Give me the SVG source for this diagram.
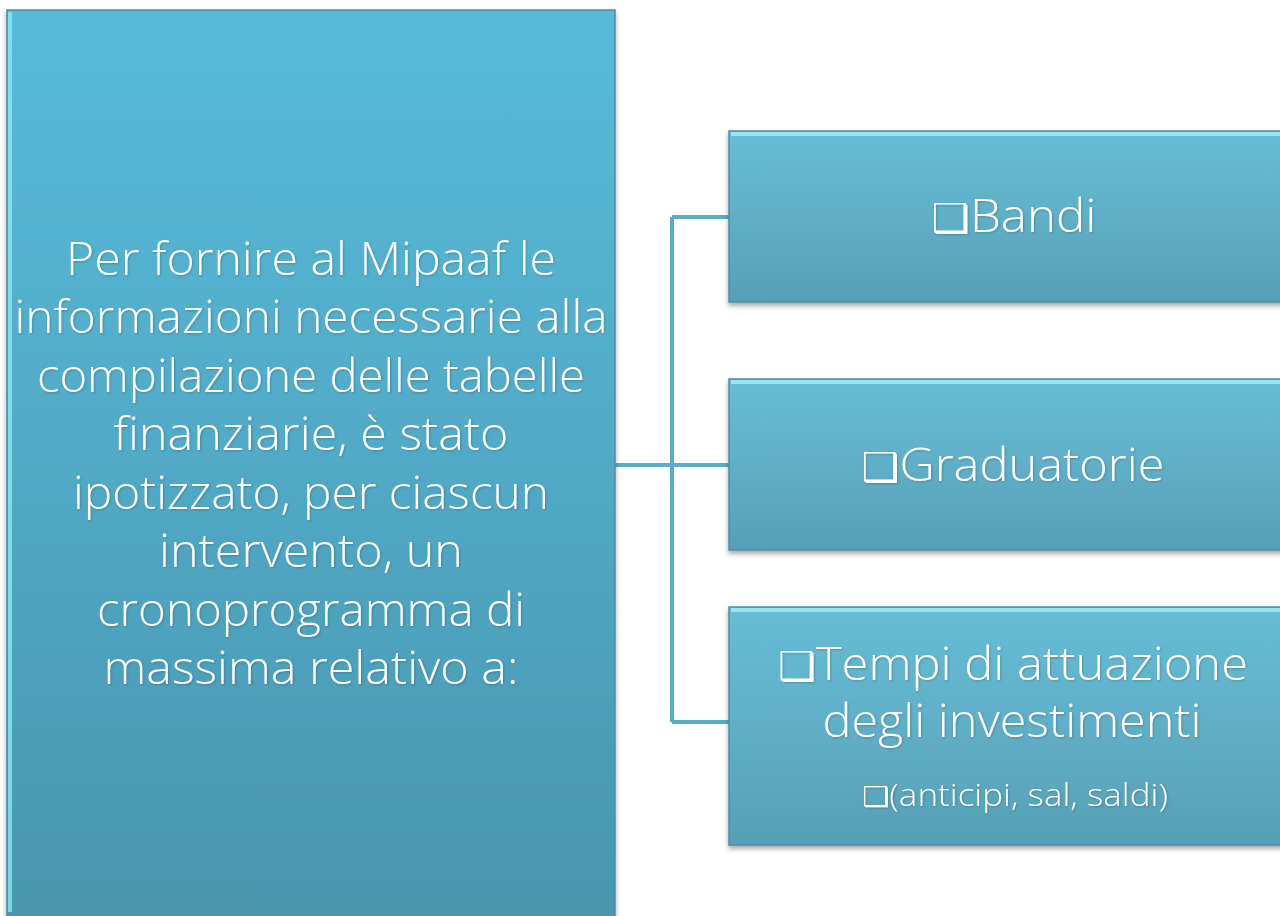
<svg xmlns="http://www.w3.org/2000/svg" width="1280" height="916" viewBox="0 0 1280 916">
<defs>
<linearGradient id="gL" x1="0" y1="0" x2="0" y2="1">
<stop offset="0" stop-color="#56bbd9"/>
<stop offset="0.5" stop-color="#51a9c6"/>
<stop offset="1" stop-color="#4895ad"/>
</linearGradient>
<linearGradient id="gR" x1="0" y1="0" x2="0" y2="1">
<stop offset="0" stop-color="#67bdd6"/>
<stop offset="0.5" stop-color="#5fafc7"/>
<stop offset="1" stop-color="#579fb6"/>
</linearGradient>
<filter id="sh" x="-5%" y="-5%" width="110%" height="115%">
<feDropShadow dx="0" dy="3" stdDeviation="2.5" flood-color="#000" flood-opacity="0.35"/>
</filter>
<filter id="ts" x="-5%" y="-20%" width="110%" height="140%">
<feDropShadow dx="1" dy="1" stdDeviation="0.8" flood-color="#000" flood-opacity="0.2"/>
</filter>
</defs>
<style>
.t{font-family:"Open Sans","Noto Sans","DejaVu Sans",sans-serif;font-weight:300;fill:#ffffff;text-anchor:middle}
.b{font-family:"DejaVu Sans",sans-serif;font-weight:400}
.c{fill:none;stroke:#5badc6;stroke-width:4}
</style>
<rect width="1280" height="916" fill="#ffffff"/>
<g id="connectors">
<path class="c" d="M615 465 H672 M672 217 V722 M672 217 H730 M672 465 H730 M672 722 H730"/>
</g>
<g id="main">
<rect x="7" y="10" width="608" height="920" fill="url(#gL)" stroke="#4d8ea3" stroke-width="1.5" filter="url(#sh)"/>
<rect x="8" y="12" width="4" height="900" fill="#8fe6f5" opacity="0.8"/>
<g class="t" font-size="46" filter="url(#ts)">
<text x="311" y="275" textLength="490" lengthAdjust="spacingAndGlyphs">Per fornire al Mipaaf le</text>
<text x="311" y="333" textLength="593" lengthAdjust="spacingAndGlyphs">informazioni necessarie alla</text>
<text x="311" y="392" textLength="548" lengthAdjust="spacingAndGlyphs">compilazione delle tabelle</text>
<text x="311" y="450" textLength="395" lengthAdjust="spacingAndGlyphs">finanziarie, è stato</text>
<text x="311" y="509" textLength="476" lengthAdjust="spacingAndGlyphs">ipotizzato, per ciascun</text>
<text x="311" y="567" textLength="304" lengthAdjust="spacingAndGlyphs">intervento, un</text>
<text x="311" y="626" textLength="428" lengthAdjust="spacingAndGlyphs">cronoprogramma di</text>
<text x="311" y="684" textLength="415" lengthAdjust="spacingAndGlyphs">massima relativo a:</text>
</g>
</g>
<g id="bandi">
<rect x="729" y="131" width="560" height="171" fill="url(#gR)" stroke="#4f8ea2" stroke-width="1.5" filter="url(#sh)"/>
<rect x="731" y="132" width="560" height="4" fill="#a6eef8" opacity="0.8"/>
<text class="t" x="1014" y="232" font-size="46" textLength="165" lengthAdjust="spacingAndGlyphs" filter="url(#ts)"><tspan class="b" font-size="40">❑</tspan>Bandi</text>
</g>
<g id="graduatorie">
<rect x="729" y="379" width="560" height="171" fill="url(#gR)" stroke="#4f8ea2" stroke-width="1.5" filter="url(#sh)"/>
<rect x="731" y="380" width="560" height="4" fill="#a6eef8" opacity="0.8"/>
<text class="t" x="1013" y="481" font-size="46" textLength="303" lengthAdjust="spacingAndGlyphs" filter="url(#ts)"><tspan class="b" font-size="40">❑</tspan>Graduatorie</text>
</g>
<g id="tempi">
<rect x="729" y="607" width="560" height="238" fill="url(#gR)" stroke="#4f8ea2" stroke-width="1.5" filter="url(#sh)"/>
<rect x="731" y="608" width="560" height="4" fill="#a6eef8" opacity="0.8"/>
<g class="t" filter="url(#ts)">
<text x="1013" y="680" font-size="46" textLength="470" lengthAdjust="spacingAndGlyphs"><tspan class="b" font-size="40">❑</tspan>Tempi di attuazione</text>
<text x="1012" y="737" font-size="46" textLength="379" lengthAdjust="spacingAndGlyphs">degli investimenti</text>
<text x="1015" y="806" font-size="31" textLength="306" lengthAdjust="spacingAndGlyphs"><tspan class="b" font-size="27">❑</tspan>(anticipi, sal, saldi)</text>
</g>
</g>
</svg>
